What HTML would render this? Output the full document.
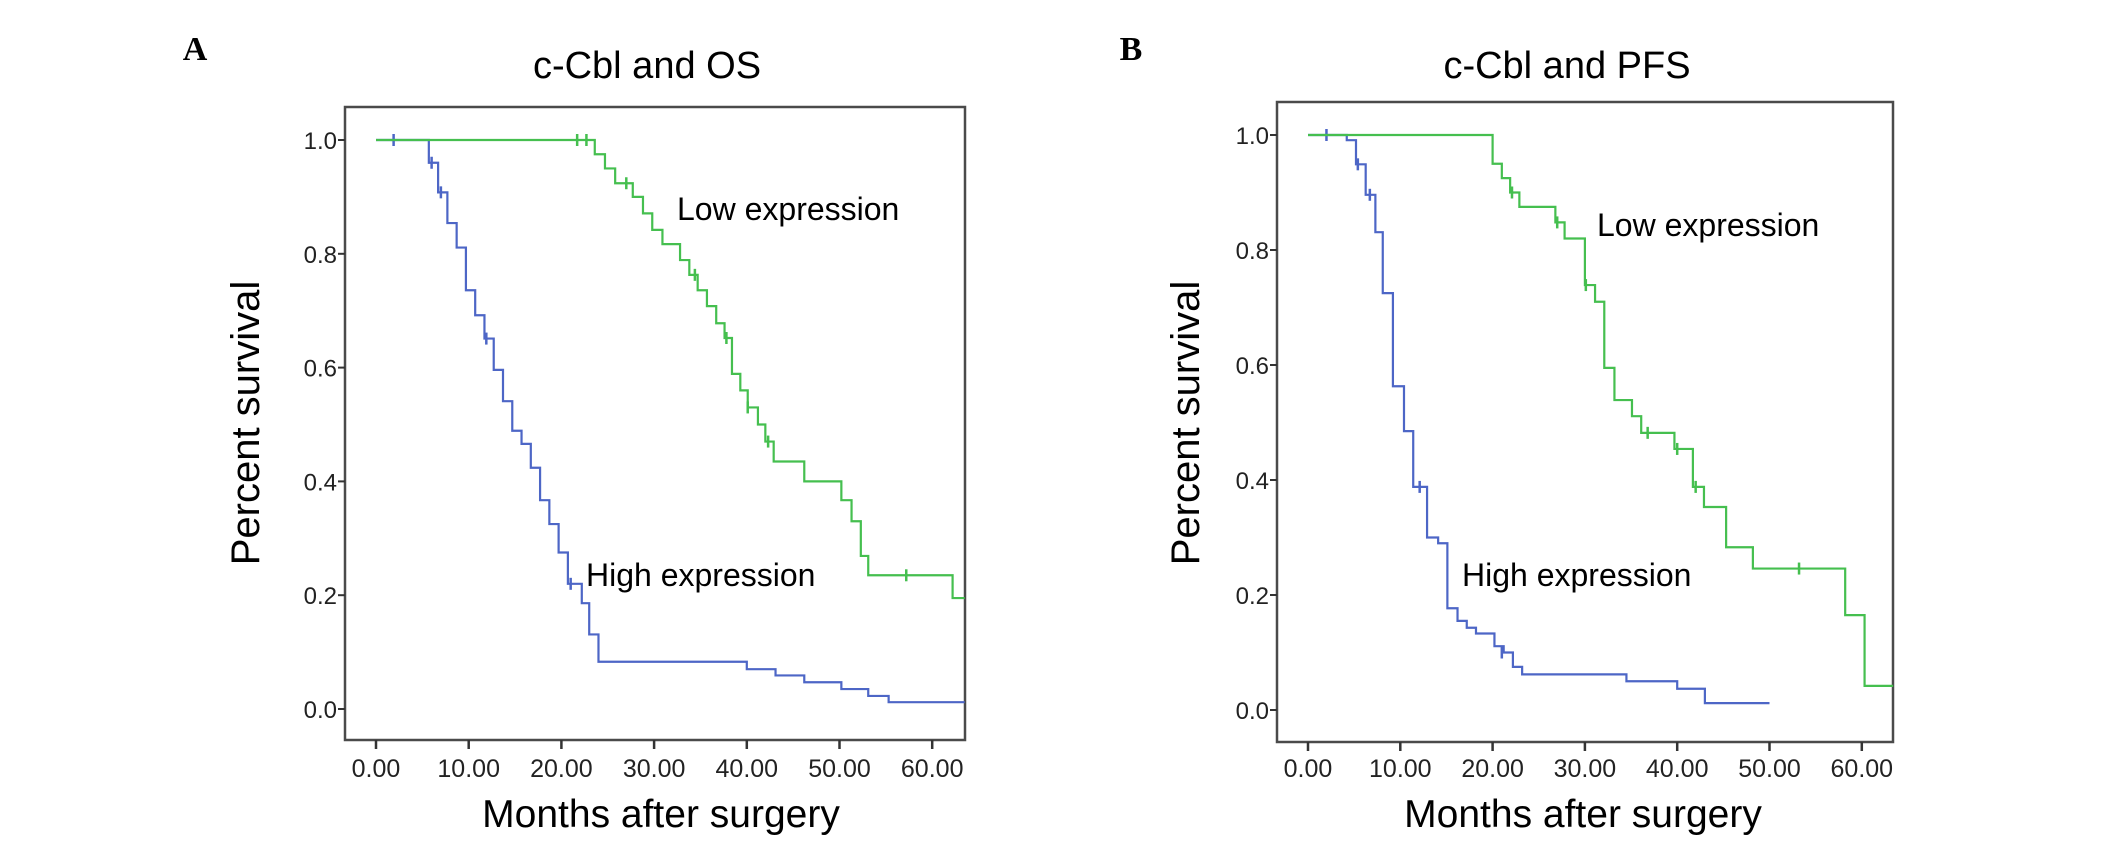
<!DOCTYPE html>
<html><head><meta charset="utf-8"><style>
html,body{margin:0;padding:0;background:#fff;}
svg{display:block;font-family:"Liberation Sans",Arial,sans-serif;}
</style></head><body>
<svg id="fig" width="2126" height="851" viewBox="0 0 2126 851" xmlns="http://www.w3.org/2000/svg">
<rect x="0" y="0" width="2126" height="851" fill="#fff"/>
<text x="195" y="60" font-family="Liberation Serif, serif" font-weight="bold" font-size="34" text-anchor="middle">A</text>
<text x="1131" y="60" font-family="Liberation Serif, serif" font-weight="bold" font-size="34" text-anchor="middle">B</text>
<g id="panelA"></g>
<g id="panelB"></g>
</svg>
<script>
// Shared axis data
const xTickLabels = ["0.00","10.00","20.00","30.00","40.00","50.00","60.00"];
const xTickValues = [0,10,20,30,40,50,60];
const yTickLabels = ["0.0","0.2","0.4","0.6","0.8","1.0"];
const yTickValues = [0,0.2,0.4,0.6,0.8,1.0];

// Panel A (OS) data
const aLowTimes = [0,23.6,24.7,25.8,27.7,28.8,29.8,30.9,32.8,33.8,34.7,35.7,36.7,37.6,38.4,39.3,40.1,41.2,42.0,42.9,46.2,50.2,51.3,52.3,53.1,62.2];
const aLowSurv  = [1,0.975,0.950,0.924,0.900,0.871,0.842,0.817,0.789,0.763,0.736,0.708,0.678,0.652,0.589,0.560,0.530,0.500,0.470,0.435,0.400,0.367,0.330,0.269,0.235,0.195];
const aLowEnd = 63.5;
const aLowCensT = [21.7,22.7,27.0,34.4,37.8,40.1,42.3,57.2];
const aLowCensS = [1,1,0.924,0.763,0.652,0.530,0.470,0.235];
const aHighTimes = [0,5.7,6.7,7.7,8.7,9.7,10.7,11.7,12.7,13.7,14.7,15.7,16.7,17.7,18.7,19.7,20.7,22.2,23.0,24.0,40.0,43.1,46.2,50.2,53.1,55.3];
const aHighSurv  = [1,0.960,0.908,0.854,0.811,0.736,0.692,0.651,0.596,0.541,0.489,0.466,0.424,0.367,0.325,0.275,0.220,0.186,0.131,0.083,0.070,0.059,0.047,0.035,0.023,0.012];
const aHighEnd = 63.5;
const aHighCensT = [1.9,6.0,7.0,11.9,21.0];
const aHighCensS = [1,0.960,0.908,0.651,0.220];

// Panel B (PFS) data
const bLowTimes = [0,20.0,21.0,21.9,22.9,26.8,27.8,30.0,31.1,32.1,33.2,35.1,36.1,39.7,41.7,42.9,45.3,48.2,58.2,60.3];
const bLowSurv  = [1,0.950,0.925,0.900,0.875,0.848,0.820,0.739,0.710,0.595,0.539,0.511,0.482,0.454,0.388,0.353,0.283,0.246,0.165,0.042];
const bLowEnd = 63.4;
const bLowCensT = [22.1,27.0,30.1,36.8,40.0,42.0,53.2];
const bLowCensS = [0.900,0.848,0.739,0.482,0.454,0.388,0.246];
const bHighTimes = [0,4.2,5.2,6.25,7.3,8.1,9.2,10.4,11.4,12.9,14.1,15.1,16.2,17.2,18.2,20.2,21.2,22.2,23.2,34.5,40.0,43.0];
const bHighSurv  = [1,0.991,0.949,0.896,0.831,0.725,0.563,0.485,0.388,0.300,0.290,0.177,0.155,0.143,0.133,0.111,0.100,0.075,0.062,0.050,0.037,0.012];
const bHighEnd = 50.0;
const bHighCensT = [2.0,5.4,6.7,12.1,21.0];
const bHighCensS = [1,0.949,0.896,0.388,0.100];

const NS = "http://www.w3.org/2000/svg";
const GREEN = "#45bf4f", BLUE = "#4d66c6";

function mk(tag, attrs, parent){
  const e = document.createElementNS(NS, tag);
  for (const k in attrs) e.setAttribute(k, attrs[k]);
  parent.appendChild(e);
  return e;
}

function drawPanel(g, cfg){
  const xs = t => cfg.x0 + t * cfg.pxPerMonth;
  const ys = s => cfg.y0 - s * cfg.pxPerUnit;

  const box = mk("rect", {x:cfg.left, y:cfg.top, width:cfg.right-cfg.left, height:cfg.bottom-cfg.top, fill:"none", stroke:"#4a4a4a", "stroke-width":2.5}, g);
  
  

  const title = mk("text", {x:cfg.titleX, y:78, "font-size":38, "text-anchor":"middle"}, g);
  title.textContent = cfg.title;
  
  

  for (let i=0;i<yTickValues.length;i++){
    const y = ys(yTickValues[i]);
    const tk = mk("line", {x1:cfg.left-7, x2:cfg.left, y1:y, y2:y, stroke:"#333", "stroke-width":2}, g);
    
    
    const lb = mk("text", {x:cfg.left-8, y:y+9, "font-size":24, "text-anchor":"end", fill:"#222"}, g);
    lb.textContent = yTickLabels[i];
    
    
  }
  for (let i=0;i<xTickValues.length;i++){
    const x = xs(xTickValues[i]);
    const tk = mk("line", {x1:x, x2:x, y1:cfg.bottom, y2:cfg.bottom+9, stroke:"#333", "stroke-width":2.5}, g);
    
    
    const lb = mk("text", {x:x, y:777, "font-size":25, "text-anchor":"middle", fill:"#222"}, g);
    lb.textContent = xTickLabels[i];
    
    
  }

  const yt = mk("text", {x:0, y:0, "font-size":40, "text-anchor":"middle", transform:`translate(${cfg.yTitleX},423) rotate(-90)`}, g);
  yt.textContent = "Percent survival";
  
  
  const xt = mk("text", {x:cfg.xTitleX, y:827, "font-size":39, "text-anchor":"middle"}, g);
  xt.textContent = "Months after surgery";
  
  

  function curve(times, surv, endT, cT, cS, color, name){
    let d = `M${xs(times[0])},${ys(surv[0])}`;
    for (let i=1;i<times.length;i++){
      d += ` H${xs(times[i])} V${ys(surv[i])}`;
    }
    d += ` H${xs(endT)}`;
    const p = mk("path", {d:d, fill:"none", stroke:color, "stroke-width":2.2}, g);
    
    
    for (let i=0;i<cT.length;i++){
      const cx = xs(cT[i]), cy = ys(cS[i]);
      const c = mk("path", {d:`M${cx},${cy-6} V${cy+6}`, stroke:color, "stroke-width":2.5}, g);
      
      
    }
  }
  curve(cfg.highT, cfg.highS, cfg.highEnd, cfg.highCT, cfg.highCS, BLUE, 'high-expression');
  curve(cfg.lowT, cfg.lowS, cfg.lowEnd, cfg.lowCT, cfg.lowCS, GREEN, 'low-expression');

  const lo = mk("text", {x:cfg.lowLabelX, y:cfg.lowLabelY, "font-size":32}, g);
  lo.textContent = "Low expression";
  
  
  const hi = mk("text", {x:cfg.highLabelX, y:586, "font-size":32}, g);
  hi.textContent = "High expression";
  
  
}

drawPanel(document.getElementById("panelA"), {
  left:345, right:965, top:107, bottom:740, x0:376, pxPerMonth:9.27, y0:709, pxPerUnit:569,
  title:"c-Cbl and OS", titleX:647, yTitleX:259, xTitleX:661,
  lowT:aLowTimes, lowS:aLowSurv, lowEnd:aLowEnd, lowCT:aLowCensT, lowCS:aLowCensS,
  highT:aHighTimes, highS:aHighSurv, highEnd:aHighEnd, highCT:aHighCensT, highCS:aHighCensS,
  lowLabelX:677, lowLabelY:220, highLabelX:586
});
drawPanel(document.getElementById("panelB"), {
  left:1277, right:1893, top:102, bottom:742, x0:1308, pxPerMonth:9.23, y0:710, pxPerUnit:575,
  title:"c-Cbl and  PFS", titleX:1567, yTitleX:1199, xTitleX:1583,
  lowT:bLowTimes, lowS:bLowSurv, lowEnd:bLowEnd, lowCT:bLowCensT, lowCS:bLowCensS,
  highT:bHighTimes, highS:bHighSurv, highEnd:bHighEnd, highCT:bHighCensT, highCS:bHighCensS,
  lowLabelX:1597, lowLabelY:236, highLabelX:1462
});
</script>
</body></html>
